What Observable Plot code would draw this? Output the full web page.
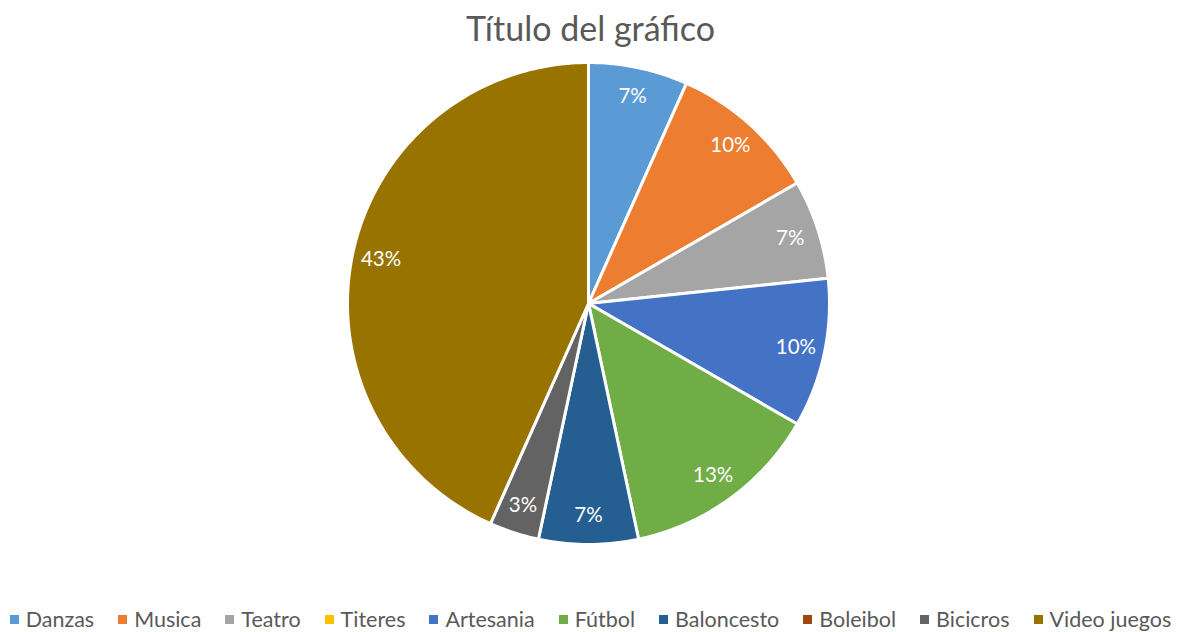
<!DOCTYPE html>
<html>
<head>
<meta charset="utf-8">
<script src="https://cdn.jsdelivr.net/npm/d3@7"></script>
<script src="https://cdn.jsdelivr.net/npm/@observablehq/plot@0.6"></script>
<style>
  html, body { margin: 0; padding: 0; background: #fff; }
  #wrap { width: 1181px; height: 632px; overflow: hidden; position: relative; font-family: Lato, "Liberation Sans", sans-serif; }
  #title { height: 56px; line-height: 56px; text-align: center; font-size: 34px; color: #595959; }
  #legend { display: flex; justify-content: center; gap: 0 24px; font-size: 21.5px; line-height: 24px; color: #595959; margin-top: 3px; white-space: nowrap; }
  #legend .item { display: flex; align-items: center; }
  #legend .sw { width: 9px; height: 9px; margin-right: 7px; display: inline-block; }
  svg { display: block; }
</style>
</head>
<body>
<div id="wrap">
  <div id="title">Título del gráfico</div>
  <div id="chart"></div>
  <div id="legend"></div>
</div>
<script>
const categories = ["Danzas", "Musica", "Teatro", "Titeres", "Artesania", "Fútbol", "Baloncesto", "Boleibol", "Bicicros", "Video juegos"];
const values = [2, 3, 2, 0, 3, 4, 2, 0, 1, 13];
const colors = ["#5B9BD5", "#ED7D31", "#A5A5A5", "#FFC000", "#4472C4", "#70AD47", "#255E91", "#9E480E", "#636363", "#997300"];

const total = d3.sum(values);
const arcs = d3.pie().sort(null).value(d => d.value)(categories.map((name, i) => ({name, value: values[i]})));

// polygon points for each slice (angle 0 at top, clockwise)
const pts = [];
const labels = [];
for (const a of arcs) {
  if (a.data.value <= 0) continue;
  const n = Math.max(2, Math.ceil((a.endAngle - a.startAngle) / (Math.PI / 180)));
  pts.push({name: a.data.name, x: 0, y: 0});
  for (let k = 0; k <= n; k++) {
    const t = a.startAngle + (a.endAngle - a.startAngle) * k / n;
    pts.push({name: a.data.name, x: Math.sin(t), y: Math.cos(t)});
  }
  pts.push({name: a.data.name, x: 0, y: 0});
  const m = (a.startAngle + a.endAngle) / 2;
  const r = 0.88;
  labels.push({name: a.data.name, x: r * Math.sin(m), y: r * Math.cos(m), text: Math.round(a.data.value / total * 100) + "%"});
}

const plot = Plot.plot({
  width: 1181,
  height: 548,
  margin: 0,
  x: {domain: [-1, 1], range: [347, 829], axis: null},
  y: {domain: [-1, 1], range: [488, 6], axis: null},
  color: {domain: categories, range: colors},
  style: {fontFamily: "Lato, 'Liberation Sans', sans-serif", background: "white"},
  marks: [
    Plot.line(pts, {x: "x", y: "y", z: "name", fill: "name", stroke: "white", strokeWidth: 3, strokeLinejoin: "round", curve: "linear"}),
    Plot.text(labels, {x: "x", y: "y", text: "text", fill: "white", fontSize: 20.5})
  ]
});
document.getElementById("chart").appendChild(plot);

const legend = document.getElementById("legend");
categories.forEach((c, i) => {
  const it = document.createElement("div");
  it.className = "item";
  const sw = document.createElement("span");
  sw.className = "sw";
  sw.style.background = colors[i];
  it.appendChild(sw);
  it.appendChild(document.createTextNode(c));
  legend.appendChild(it);
});
</script>
</body>
</html>
